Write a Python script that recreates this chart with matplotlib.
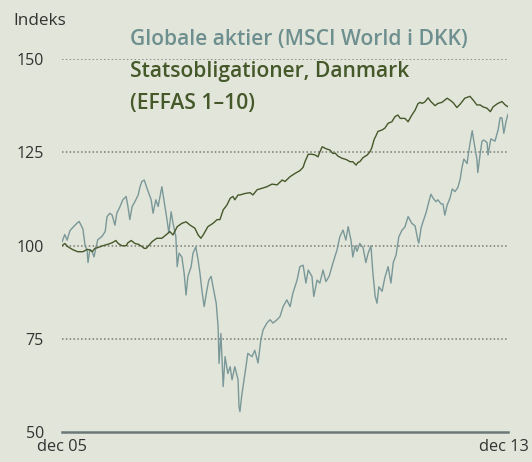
import matplotlib
matplotlib.use("Agg")
import matplotlib.pyplot as plt
from matplotlib.transforms import ScaledTranslation

# Months since dec 05 and index values
aktier_m = [0, 0.6, 1.1, 1.7, 2.4, 3.2, 3.7, 4.3, 4.5, 5.0, 5.4, 5.6, 6.0, 6.5, 6.9, 7.3,
            7.7, 8.6, 9.3, 9.7, 10.3, 10.8, 11.4, 11.8, 12.5, 13.1, 13.8, 14.2, 14.6, 15.1,
            15.7, 16.4, 16.8, 17.2, 17.7, 18.3, 19.2, 19.6, 20.2, 20.7, 21.1, 21.5, 22.0,
            22.6, 23.0, 23.5, 23.9, 24.5, 24.8, 25.2, 25.8, 26.3, 26.7, 27.1, 27.8, 28.2,
            28.8, 29.3, 29.7, 30.1, 30.6, 31.2, 31.6, 32.1, 32.5, 33.2, 33.6, 33.8, 34.2,
            34.7, 35.1, 35.7, 36.2, 36.6, 37.2, 37.9, 38.1, 38.3, 38.7, 39.4, 40.0, 40.9,
            41.5, 42.2, 42.8, 43.3, 44.1, 44.8, 45.4, 46.3, 46.9, 47.6, 48.4, 49.1, 49.7,
            50.6, 51.2, 51.9, 52.5, 53.0, 53.8, 54.2, 54.9, 55.5, 56.2, 56.8, 57.5, 58.3,
            59.2, 59.8, 60.5, 61.1, 61.6, 62.2, 62.6, 63.1, 63.5, 64.1, 64.8, 65.4, 65.9,
            66.5, 66.9, 67.4, 67.8, 68.2, 68.9, 69.5, 70.2, 70.8, 71.3, 71.9, 72.5, 73.2,
            73.8, 74.5, 75.3, 76.0, 76.6, 76.8, 77.3, 77.7, 78.4, 78.8, 79.4, 79.9, 80.5,
            80.9, 81.6, 82.0, 82.4, 82.9, 83.5, 84.0, 84.6, 85.2, 85.7, 86.1, 86.5, 87.2,
            87.4, 87.8, 88.3, 88.7, 89.3, 89.5, 90.0, 90.4, 90.8, 91.5, 91.7, 92.3, 92.8,
            93.2, 93.9, 94.3, 94.7, 95.1, 95.6, 96.0]
aktier = [101, 103, 101.5, 104, 105, 106, 106.5, 105, 104.5, 99.8, 99, 95.5, 99, 98.5, 97,
          99.5, 101.6, 102.5, 103.8, 107.8, 108.7, 108.2, 105.5, 108.7, 110.5, 112.3, 113.2,
          110.5, 107, 110.5, 111.8, 113.6, 115.8, 117.2, 117.6, 115.4, 112.3, 108.7, 112.3,
          110.5, 113.2, 115.8, 111.8, 107, 103.4, 109.1, 106, 102.5, 94.4, 98, 97, 92.6,
          86.8, 91.8, 94.4, 98, 99.7, 96.2, 92.6, 88.2, 83.7, 88.2, 90.8, 91.8, 89.1, 84.6,
          78.3, 68.5, 76.5, 62.3, 70.3, 65.8, 67.6, 64.1, 67.6, 64.1, 56.9, 55.6, 60, 65.9,
          71.2, 70.3, 72, 68.6, 74.8, 77.5, 79.3, 80.2, 79.3, 80.2, 81, 83.7, 85.5, 83.7,
          87.3, 90.8, 94.4, 94.8, 90, 93.5, 91.8, 86.4, 90.8, 90, 93.5, 90.4, 91.8, 95.3,
          98.9, 102.4, 104.2, 101.5, 105.1, 101.5, 97, 100, 98.5, 100.6, 99.5, 95.5, 98,
          100, 93, 86.5, 84.6, 89, 87.8, 91.5, 94.4, 90, 95.5, 97.5, 102.4, 104.2, 105,
          107.8, 106, 105.3, 101.5, 100.7, 104.8, 106.4, 109, 111, 113.8, 112.7, 111.8,
          112.3, 111.2, 111.2, 108.2, 110.9, 112.7, 115.2, 114.5, 115.6, 117.8, 121, 123.2,
          122, 124, 127.2, 130.8, 127.6, 123.2, 119.6, 124.5, 128, 128.3, 127.6, 124.3,
          128.6, 128.3, 128, 131.2, 134.3, 134.2, 130.1, 133.4, 135.2]

obl_m = [0, 0.6, 1.3, 2.4, 3.4, 4.5, 5.4, 6.0, 6.5, 7.1, 7.7, 8.8, 9.9, 10.8, 11.6, 12.1,
         12.9, 13.8, 14.2, 14.9, 15.7, 16.4, 17.2, 17.7, 18.1, 18.5, 19.4, 20.4, 21.5, 22.4,
         23.2, 23.9, 24.8, 25.8, 26.7, 27.6, 28.6, 29.3, 29.9, 30.4, 31.4, 32.5, 33.4, 34.0,
         34.7, 35.5, 36.2, 36.8, 37.2, 37.9, 38.3, 39.4, 40.5, 41.1, 42.0, 43.1, 44.1, 45.2,
         46.3, 47.4, 48.0, 49.1, 50.2, 51.2, 51.9, 52.3, 53.0, 53.8, 54.5, 55.1, 55.5, 56.0,
         56.8, 57.7, 58.3, 58.8, 59.4, 60.3, 60.9, 61.3, 62.0, 62.6, 63.3, 63.7, 64.1, 64.8,
         65.7, 66.3, 66.7, 67.2, 67.6, 68.0, 68.9, 69.5, 70.2, 71.0, 71.7, 72.3, 72.8, 73.2,
         73.8, 74.5, 75.3, 76.0, 76.6, 77.1, 77.5, 78.1, 78.8, 79.4, 80.3, 80.9, 81.8, 82.9,
         83.5, 84.2, 85.0, 85.7, 86.7, 87.8, 88.5, 89.3, 90.0, 90.6, 91.5, 92.2, 92.8, 93.8,
         94.7, 95.4, 96.0]
obl = [100, 100.6, 99.7, 98.9, 98.4, 98.4, 99, 98.9, 98.4, 99.3, 99.5, 100, 100.4, 100.8,
       101.4, 100.6, 100, 100, 100.8, 101.4, 100.6, 100.4, 99.8, 99.3, 99.3, 99.8, 101.1,
       102, 102, 102.9, 103.8, 102.9, 105.1, 106, 106.4, 105.5, 104.7, 102.9, 102, 102.9,
       105.1, 106, 107, 107, 109.6, 110.9, 112.7, 113.2, 112.3, 113.6, 113.6, 114, 114.2,
       113.6, 115, 115.4, 115.8, 116.5, 116.3, 117.6, 117.2, 118.5, 119.4, 120.1, 121,
       122.5, 124.5, 124.5, 124.3, 123.8, 125.1, 126.5, 126, 125.6, 124.7, 124.8, 124,
       123.4, 123.2, 123, 122.5, 122.5, 121.6, 122.3, 122.5, 123.6, 124.3, 125.2, 126.3,
       128.5, 129.5, 130.6, 131, 131.5, 132.8, 133.2, 134.6, 135, 134.1, 134.1, 134.1,
       133.2, 135, 136.3, 138, 138.4, 138.1, 138.5, 139.6, 138.6, 137.5, 138.1, 138.4,
       139.5, 139, 138.3, 137, 137.9, 139.5, 140, 139, 137.7, 137.7, 137.2, 136.8, 135.9,
       137.2, 138.1, 138.6, 137.7, 137.2]

yticks = [50, 75, 100, 125, 150]
xlabels = ["dec 05", "dec 13"]

bg = "#e2e5d9"
c_akt = "#7a9899"
c_obl = "#45582a"

plt.rcParams["font.family"] = ["Open Sans", "DejaVu Sans"]

fig = plt.figure(figsize=(5.32, 4.62), dpi=100, facecolor=bg)
ax = fig.add_axes([0.1165, 0.0639, 0.8384, 0.8084], facecolor=bg)

ax.plot(aktier_m, aktier, color=c_akt, lw=1.0, zorder=3)
ax.plot(obl_m, obl, color=c_obl, lw=1.0, zorder=4)

ax.set_xlim(0, 96)
ax.set_ylim(50, 150)

for v in yticks[1:]:
    ax.axhline(v, color="#7a7a72", lw=1.1, ls=(0, (1, 1.5)), zorder=1)
ax.axhline(50, color="#6c7878", lw=1.8, zorder=2, clip_on=False)

for s in ax.spines.values():
    s.set_visible(False)

ax.set_yticks(yticks)
ax.tick_params(axis="y", length=0, pad=13, labelsize=11.5, labelcolor="#333333")
ax.set_xticks([0, 96])
ax.set_xticklabels(xlabels)
ax.tick_params(axis="x", length=0, pad=5, labelsize=11.8, labelcolor="#333333")
lbl = ax.get_xticklabels()[1]
lbl.set_transform(lbl.get_transform() + ScaledTranslation(-0.045, 0, fig.dpi_scale_trans))

fig.text(13 / 532, 1 - 21 / 462, "Indeks", fontsize=12.3, color="#333333", va="center")

fig.text(130 / 532, 1 - 40 / 462, "Globale aktier (MSCI World i DKK)", fontsize=15.1,
         color="#6e8f8f", fontweight="semibold", va="center")
fig.text(130 / 532, 1 - 72 / 462, "Statsobligationer, Danmark", fontsize=15.1,
         color=c_obl, fontweight="semibold", va="center")
fig.text(130 / 532, 1 - 103 / 462, "(EFFAS 1\u201310)", fontsize=15.1,
         color=c_obl, fontweight="semibold", va="center")

fig.savefig("out.png", dpi=100, facecolor=bg)
